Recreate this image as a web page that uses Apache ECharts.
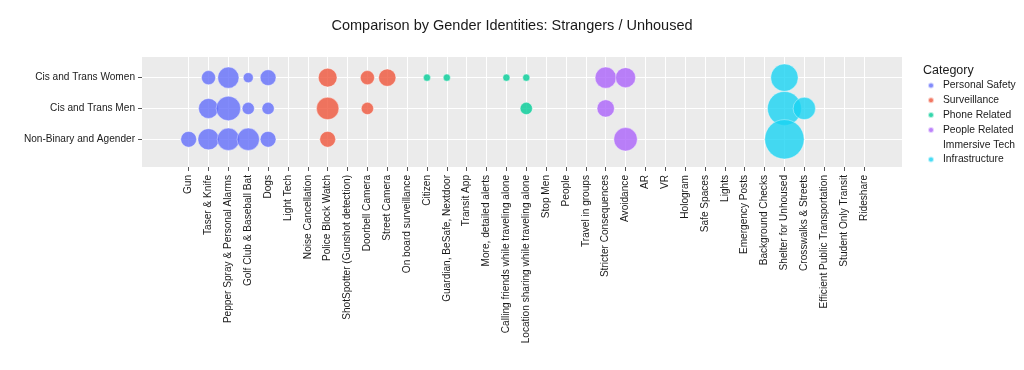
<!DOCTYPE html>
<html><head><meta charset="utf-8">
<script src="https://cdn.jsdelivr.net/npm/echarts@6/dist/echarts.min.js"></script>
<style>html,body{margin:0;padding:0;background:#fff}#c{width:1024px;height:370px}</style>
</head><body><div id="c"></div>
<script>
const chartTitle = 'Comparison by Gender Identities: Strangers / Unhoused';
const legendTitle = 'Category';
const xCategories = ['Gun','Taser & Knife','Pepper Spray & Personal Alarms','Golf Club & Baseball Bat','Dogs','Light Tech','Noise Cancellation','Police Block Watch','ShotSpotter (Gunshot detection)','Doorbell Camera','Street Camera','On board surveillance','Citizen','Guardian, BeSafe, Nextdoor','Transit App','More, detailed alerts','Calling friends while traveling alone','Location sharing while traveling alone','Stop Men','People','Travel in groups','Stricter Consequences','Avoidance','AR','VR','Hologram','Safe Spaces','Lights','Emergency Posts','Background Checks','Shelter for Unhoused','Crosswalks & Streets','Efficient Public Transportation','Student Only Transit','Rideshare'];
const yCategories = ['Cis and Trans Women','Cis and Trans Men','Non-Binary and Agender'];
const groupNames = ['Personal Safety','Surveillance','Phone Related','People Related','Immersive Tech','Infrastructure'];
const groupColors = ['#636EFA','#EF553B','#00CC96','#AB63FA','#FFA15A','#19D3F3'];

// [item, gender group, count]
const personalSafety = [
  ['Taser & Knife','Cis and Trans Women',4],['Pepper Spray & Personal Alarms','Cis and Trans Women',9],['Golf Club & Baseball Bat','Cis and Trans Women',2],['Dogs','Cis and Trans Women',5],
  ['Taser & Knife','Cis and Trans Men',8],['Pepper Spray & Personal Alarms','Cis and Trans Men',12],['Golf Club & Baseball Bat','Cis and Trans Men',3],['Dogs','Cis and Trans Men',3],
  ['Gun','Non-Binary and Agender',5],['Taser & Knife','Non-Binary and Agender',9],['Pepper Spray & Personal Alarms','Non-Binary and Agender',10],['Golf Club & Baseball Bat','Non-Binary and Agender',10],['Dogs','Non-Binary and Agender',5]
];
const surveillance = [
  ['Police Block Watch','Cis and Trans Women',7],['Doorbell Camera','Cis and Trans Women',4],['Street Camera','Cis and Trans Women',6],
  ['Police Block Watch','Cis and Trans Men',10],['Doorbell Camera','Cis and Trans Men',3],
  ['Police Block Watch','Non-Binary and Agender',5]
];
const phoneRelated = [
  ['Citizen','Cis and Trans Women',1],['Guardian, BeSafe, Nextdoor','Cis and Trans Women',1],['Calling friends while traveling alone','Cis and Trans Women',1],['Location sharing while traveling alone','Cis and Trans Women',1],
  ['Location sharing while traveling alone','Cis and Trans Men',3]
];
const peopleRelated = [
  ['Stricter Consequences','Cis and Trans Women',9],['Avoidance','Cis and Trans Women',8],
  ['Stricter Consequences','Cis and Trans Men',6],
  ['Avoidance','Non-Binary and Agender',11]
];
const immersiveTech = [];
const infrastructure = [
  ['Shelter for Unhoused','Cis and Trans Women',15],
  ['Shelter for Unhoused','Cis and Trans Men',23],['Crosswalks & Streets','Cis and Trans Men',10],
  ['Shelter for Unhoused','Non-Binary and Agender',31]
];
const groupData = [personalSafety, surveillance, phoneRelated, peopleRelated, immersiveTech, infrastructure];

const font = 'Liberation Sans, Arial, Helvetica, sans-serif';
const toPoint = d => [xCategories.indexOf(d[0]), yCategories.indexOf(d[1]), d[2]];

const chart = echarts.init(document.getElementById('c'), null, {renderer: 'canvas'});
chart.setOption({
  backgroundColor: '#fff',
  animation: false,
  textStyle: {fontFamily: font},
  title: [
    {text: chartTitle, left: 'center', top: 13, textStyle: {fontFamily: font, fontSize: 14.5, fontWeight: 'normal', color: '#1a1a1a'}},
    {text: legendTitle, left: 918, top: 59, textStyle: {fontFamily: font, fontSize: 12.5, fontWeight: 'normal', color: '#1a1a1a'}}
  ],
  legend: {
    orient: 'vertical', left: 922, top: 75.5, itemGap: 4.8,
    itemWidth: 14, itemHeight: 6, icon: 'circle',
    textStyle: {fontFamily: font, fontSize: 10.3, color: '#1a1a1a'},
    data: groupNames.map(n => n === 'Immersive Tech' ? {name: n, itemStyle: {opacity: 0}} : n)
  },
  grid: {left: 142, top: 57, width: 760, height: 110, show: true, backgroundColor: '#EBEBEB', borderWidth: 0},
  xAxis: {
    type: 'value', min: -2.35, max: 35.92,
    axisLine: {show: false, onZero: false},
    axisTick: {show: true, length: 4, lineStyle: {color: '#555'}, customValues: xCategories.map((c, i) => i)},
    axisLabel: {show: true, rotate: 90, margin: 8, fontFamily: font, fontSize: 10.1, color: '#1a1a1a',
      customValues: xCategories.map((c, i) => i), formatter: v => xCategories[Math.round(v)] || ''},
    splitLine: {show: true, lineStyle: {color: '#fff', width: 1}}
  },
  yAxis: {
    type: 'value', min: -0.67, max: 2.9, inverse: true,
    axisLine: {show: false, onZero: false},
    axisTick: {show: true, length: 4, lineStyle: {color: '#555'}, customValues: yCategories.map((c, i) => i)},
    axisLabel: {show: true, margin: 7, fontFamily: font, fontSize: 10.1, color: '#1a1a1a',
      customValues: yCategories.map((c, i) => i), formatter: v => yCategories[Math.round(v)] || ''},
    splitLine: {show: true, lineStyle: {color: '#fff', width: 1}}
  },
  series: groupNames.map((name, gi) => ({
    name: name, type: 'scatter',
    data: groupData[gi].map(toPoint),
    symbol: 'circle',
    symbolSize: v => 7.06 * Math.sqrt(v[2]),
    itemStyle: {color: groupColors[gi], opacity: 0.8, borderColor: 'rgba(255,255,255,0.8)', borderWidth: 0.6},
    emphasis: {disabled: true}
  }))
});
</script></body></html>
